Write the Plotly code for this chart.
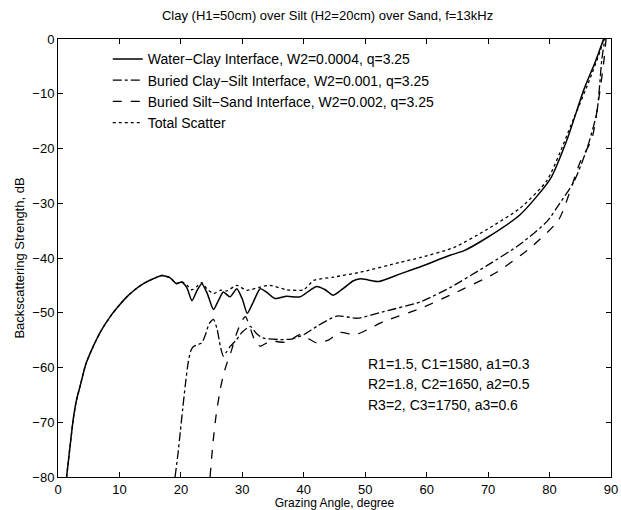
import plotly.graph_objects as go

# Water-Clay interface (solid)
x_wc = [1.4, 2.0, 2.5, 3.0, 3.6, 4.5, 5.75, 7.0, 8.5, 10.0, 11.2, 12.5, 13.9, 15.5, 16.9,
        18.2, 19.3, 20.1, 21.0, 21.8, 22.6, 23.4, 24.3, 25.3, 26.1, 26.9, 28.0, 29.1, 30.0,
        30.8, 31.8, 32.9, 34.0, 35.3, 37.2, 39.4, 41.0, 42.1, 43.5, 44.8, 46.5, 48.0, 49.2,
        50.5, 52.2, 55.7, 59.0, 63.8, 66.0, 69.8, 75.2, 80.1, 82.9, 85.6, 87.5, 88.8]
y_wc = [-80, -74, -69.3, -66, -63.4, -59.5, -56.1, -53.3, -50.7, -48.6, -47.1, -45.8, -44.7,
        -43.8, -43.2, -43.6, -44.7, -44.4, -45.5, -47.8, -46.0, -44.7, -46.5, -49.4, -47.8,
        -46.2, -47.1, -45.6, -47.5, -50.1, -48.0, -45.6, -46.3, -47.4, -47.0, -47.1, -45.9,
        -45.2, -45.8, -46.8, -45.5, -44.2, -43.8, -44.0, -44.3, -42.9, -41.6, -39.5, -38.7,
        -36.3, -32.1, -25.6, -18.2, -9.2, -4.0, 0.0]

# Buried Clay-Silt interface (dash-dot)
x_cs = [19.05, 19.5, 19.9, 20.3, 20.7, 21.2, 21.6, 22.0, 22.8, 23.4, 24.0, 24.6, 25.3, 25.9,
        26.4, 26.9, 27.4, 28.0, 29.0, 30.0, 31.3, 32.3, 33.3, 36.2, 38.0, 40.0, 42.1, 45.4,
        48.7, 53.0, 59.0, 63.8, 69.8, 75.2, 79.6, 81.5, 84.0, 86.1, 87.7, 88.5, 89.0]
y_cs = [-80, -76, -71.8, -67.5, -63.4, -59, -57, -56.2, -55.8, -55.5, -54, -52, -51.2, -53,
        -56, -57.9, -57.2, -56.2, -55, -53.5, -52.5, -53.8, -54.6, -54.9, -54.8, -54.0,
        -52.5, -50.6, -51.0, -49.8, -48.0, -45.4, -41.4, -37.5, -33.3, -30.3, -26, -20,
        -13.4, -3.8, 0]

# Buried Silt-Sand interface (dashed)
x_ss = [24.75, 25.2, 25.7, 26.4, 27.0, 27.5, 28.2, 29.0, 29.9, 30.5, 31.2, 32.0, 32.9, 34.5,
        37.2, 39.4, 42.1, 44.0, 45.9, 48.4, 50.5, 53.0, 59.0, 63.8, 71.4, 76.9, 81.5, 85.0,
        86.9, 88.0, 88.8, 89.2]
y_ss = [-80, -74, -69, -64, -61, -59.2, -57, -54, -51.5, -50.7, -52.5, -55, -56.1, -55.2,
        -55.4, -54.0, -55.5, -55.0, -53.6, -54.0, -53.0, -51.6, -49.2, -46.8, -42.6, -38.1,
        -33.0, -22.4, -18.2, -11.0, -4.4, 0]

# Total scatter (dotted)
x_tot = [1.4, 2.0, 2.5, 3.0, 3.6, 4.5, 5.75, 7.0, 8.5, 10.0, 11.2, 12.5, 13.9, 15.5, 16.9,
         18.2, 19.3, 20.1, 21.0, 21.8, 22.6, 23.4, 24.2, 25.3, 26.4, 27.5, 29.1, 30.7, 32.9,
         34.5, 37.2, 40.0, 41.6, 44.8, 49.2, 55.7, 59.0, 64.4, 69.8, 75.2, 79.6, 83.9, 86.5,
         88.3, 88.8]
y_tot = [-80, -74, -69.3, -66, -63.4, -59.5, -56.1, -53.3, -50.7, -48.6, -47.1, -45.8, -44.7,
         -43.8, -43.2, -43.6, -44.6, -44.3, -45.0, -45.8, -45.2, -44.5, -45.6, -46.5, -45.9,
         -46.0, -45.0, -45.9, -45.3, -45.0, -45.8, -45.8, -44.1, -43.5, -42.6, -40.8, -39.9,
         -38.1, -34.8, -30.9, -25.8, -14.6, -7.5, -2.0, 0]

names = ["Water\u2212Clay Interface, W2=0.0004, q=3.25",
         "Buried Clay\u2212Silt Interface, W2=0.001, q=3.25",
         "Buried Silt\u2212Sand Interface, W2=0.002, q=3.25",
         "Total Scatter"]
params = ["R1=1.5, C1=1580, a1=0.3",
          "R2=1.8, C2=1650, a2=0.5",
          "R3=2, C3=1750, a3=0.6"]
param_y = [-59.3, -63.1, -66.9]

x_ticks = [0, 10, 20, 30, 40, 50, 60, 70, 80, 90]
y_ticks = [0, -10, -20, -30, -40, -50, -60, -70, -80]

FONT = "Liberation Sans, Arial, Helvetica, sans-serif"

fig = go.Figure()
series = [(x_wc, y_wc, "solid", 1.5), (x_cs, y_cs, "dashdot", 1.3),
          (x_ss, y_ss, "dash", 1.3), (x_tot, y_tot, "dot", 1.3)]
for (xs, ys, dash, w), nm in zip(series, names):
    fig.add_trace(go.Scatter(x=xs, y=ys, mode="lines", name=nm,
                             line=dict(color="black", width=w, dash=dash,
                                       shape="spline", smoothing=0.6),
                             cliponaxis=True))

for txt, yy in zip(params, param_y):
    fig.add_annotation(x=50.1, y=yy, text=txt, showarrow=False, xanchor="left",
                       yanchor="middle", font=dict(family=FONT, size=14, color="black"))

axis_common = dict(showgrid=False, zeroline=False, showline=True, linecolor="black",
                   linewidth=1, mirror="ticks", ticks="inside", ticklen=5,
                   tickcolor="black", automargin=False,
                   tickfont=dict(family=FONT, size=13, color="black"))

fig.update_layout(
    width=621, height=510,
    margin=dict(l=58, r=10, t=39, b=33),
    paper_bgcolor="white", plot_bgcolor="white",
    title=dict(text="Clay (H1=50cm) over Silt (H2=20cm) over Sand, f=13kHz",
               x=0.5275, xanchor="center", y=0.97, yanchor="middle",
               font=dict(family=FONT, size=13, color="black")),
    xaxis=dict(range=[0, 90], tickvals=x_ticks, title=dict(text="Grazing Angle, degree",
               font=dict(family=FONT, size=12, color="black"), standoff=5), **axis_common),
    yaxis=dict(range=[-80, 0], tickvals=y_ticks, title=dict(text="Backscattering Strength, dB",
               font=dict(family=FONT, size=13, color="black"), standoff=4), **axis_common),
    legend=dict(x=0.09, y=0.99, xanchor="left", yanchor="top", bgcolor="rgba(0,0,0,0)",
                borderwidth=0, font=dict(family=FONT, size=14, color="black"),
                tracegroupgap=0),
    showlegend=True,
)

fig.write_html("out.html")
